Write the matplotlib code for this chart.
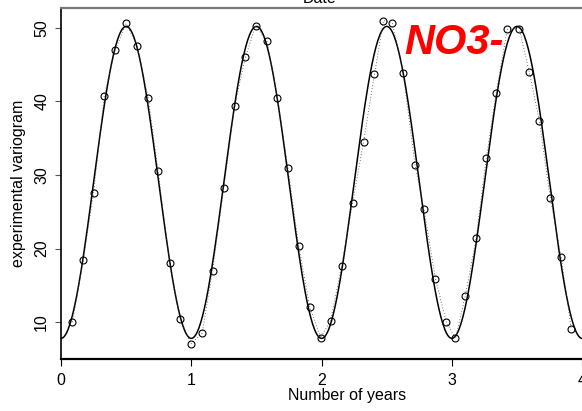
import numpy as np
import matplotlib
matplotlib.use("Agg")
import matplotlib.pyplot as plt

plt.rcParams['font.family'] = ['Liberation Sans', 'DejaVu Sans']

# 实验变差函数 (lag in years, semivariance)
lag_years = [0.087, 0.171, 0.250, 0.332, 0.416, 0.500, 0.584, 0.669, 0.745, 0.834,
             0.914, 0.998, 1.083, 1.163, 1.249, 1.333, 1.415, 1.494, 1.581, 1.661,
             1.742, 1.824, 1.910, 1.992, 2.069, 2.153, 2.238, 2.322, 2.406, 2.475,
             2.544, 2.626, 2.718, 2.785, 2.874, 2.958, 3.027, 3.103, 3.186, 3.264,
             3.340, 3.425, 3.517, 3.594, 3.671, 3.755, 3.839, 3.916]
gamma = [10.0, 18.4, 27.6, 40.8, 47.0, 50.6, 47.6, 40.5, 30.6, 18.0,
         10.4, 7.1, 8.5, 17.0, 28.2, 39.4, 46.0, 50.3, 48.2, 40.5,
         30.9, 20.4, 12.0, 7.9, 10.2, 17.6, 26.2, 34.5, 43.7, 51.0,
         50.6, 43.8, 31.3, 25.4, 15.9, 10.0, 7.8, 13.6, 21.4, 32.3,
         41.2, 49.8, 49.9, 44.0, 37.4, 26.9, 18.8, 9.1]

# 周期模型参数 (nugget + 余弦项)
nugget = 7.8
amplitude = 21.2
period = 1.0

h = np.linspace(0, 4.4, 600)
model = nugget + amplitude * (1 - np.cos(2 * np.pi * h / period))

fig = plt.figure(figsize=(5.82, 4.11), dpi=100)
ax = fig.add_axes([61 / 582, 52 / 411, 572 / 582, 351 / 411])

ax.plot(h, model, color='black', lw=1.1)
ax.plot(lag_years, gamma, color='#444444', lw=0.6, ls=(0, (1, 2.5)))
ax.plot(lag_years, gamma, 'o', mfc='none', mec='black', ms=5, mew=0.8)

ax.text(2.636, 46.5, 'NO3-', color='red', fontsize=30, fontweight='bold',
        fontstyle='italic', ha='left', va='baseline')

ax.set_xlim(0, 4.39)
ax.set_ylim(5.0, 52.7)
ax.set_xticks([0, 1, 2, 3, 4])
ax.set_yticks([10, 20, 30, 40, 50])
ax.tick_params(axis='x', length=5, width=0.8, pad=5, labelsize=11.5)
ax.tick_params(axis='y', length=4.5, width=0.8, pad=4, labelsize=11.5, color='#555555')
for lab in ax.get_yticklabels():
    lab.set_rotation(90)
    lab.set_va('center')

ax.spines['right'].set_visible(False)
ax.spines['top'].set_color('#777777')
ax.spines['top'].set_linewidth(1.6)
ax.spines['left'].set_linewidth(1.2)
ax.spines['bottom'].set_linewidth(1.6)

ax.set_xlabel('Number of years', fontsize=11.5, labelpad=0)
ax.set_ylabel('experimental variogram', fontsize=11.5, labelpad=6)

fig.text(320 / 582, 1 - 3 / 411, 'Date', ha='center', va='baseline', fontsize=11.5)

fig.savefig('out.png', dpi=100)
